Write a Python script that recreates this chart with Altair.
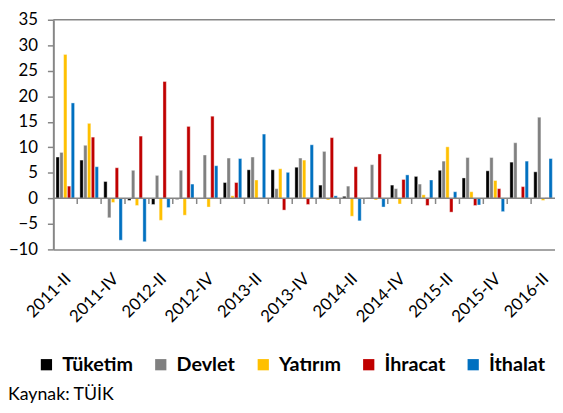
import altair as alt
import pandas as pd

quarters = ["2011-II", "2011-III", "2011-IV", "2012-I", "2012-II", "2012-III", "2012-IV",
            "2013-I", "2013-II", "2013-III", "2013-IV", "2014-I", "2014-II", "2014-III",
            "2014-IV", "2015-I", "2015-II", "2015-III", "2015-IV", "2016-I", "2016-II"]
labeled = quarters[::2]

series = ["Tüketim", "Devlet", "Yatırım", "İhracat", "İthalat"]
colors = ["#000000", "#808080", "#FFC000", "#C00000", "#0070C0"]

tuketim = [8.1, 7.5, 3.3, -0.4, -1.2, -0.2, -0.1, 3.1, 5.6, 5.6, 6.1, 2.6, 0.4, 0.1, 2.6, 4.3, 5.5, 4.0, 5.4, 7.1, 5.2]
devlet = [9.0, 10.4, -3.8, 5.5, 4.5, 5.5, 8.5, 7.9, 8.1, 1.9, 7.9, 9.2, 2.4, 6.6, 1.9, 2.8, 7.3, 8.0, 8.0, 10.9, 15.9]
yatirim = [28.2, 14.7, -0.8, -1.4, -4.3, -3.3, -1.7, 0.5, 3.6, 5.8, 7.5, -0.3, -3.5, -0.3, -1.1, 0.7, 10.1, 1.3, 3.5, 0.1, -0.4]
ihracat = [2.4, 12.0, 6.0, 12.2, 22.9, 14.1, 16.1, 3.1, 0.1, -2.3, -1.2, 11.9, 6.2, 8.7, 3.7, -1.4, -2.7, -1.4, 1.9, 2.3, 0.1]
ithalat = [18.7, 6.2, -8.2, -8.5, -1.8, 2.8, 6.4, 7.8, 12.6, 5.1, 10.5, 0.5, -4.4, -1.7, 4.6, 3.6, 1.3, -1.3, -2.6, 7.3, 7.8]

y_ticks = list(range(-10, 40, 5))
source_text = "Kaynak: TÜİK"

rows = []
for name, vals in zip(series, [tuketim, devlet, yatirim, ihracat, ithalat]):
    for q, v in zip(quarters, vals):
        rows.append({"q": q, "s": name, "v": v})
df = pd.DataFrame(rows)

FONT = "Lato"
GRAY = "#868686"

x_axis = alt.Axis(values=labeled, labelAngle=-45, labelAlign="right", labelBaseline="middle",
                  labelFontSize=17, labelFont=FONT, labelColor="#000000", labelPadding=27,
                  labelOffset=3, labelOverlap=False, ticks=False, domain=True, domainColor=GRAY,
                  domainWidth=1.5, title=None)
x_scale = alt.Scale(domain=quarters, paddingInner=0, paddingOuter=0)
y_scale = alt.Scale(domain=[-10, 35], nice=False, zero=False)
y_axis = alt.Axis(values=y_ticks, grid=False, tickSize=6, tickColor=GRAY, tickWidth=1.5,
                  domainColor=GRAY, domainWidth=2, labelFontSize=17, labelFont=FONT,
                  labelColor="#000000", labelPadding=10, labelOverlap=False, title=None)

bars = alt.Chart(df).mark_bar(stroke="white", strokeWidth=0.4).encode(
    x=alt.X("q:N", scale=x_scale, axis=x_axis, sort=quarters),
    xOffset=alt.XOffset("s:N", sort=series, scale=alt.Scale(domain=series, paddingInner=0.12, paddingOuter=0.7)),
    y=alt.Y("v:Q", scale=y_scale, axis=y_axis),
    color=alt.Color("s:N", scale=alt.Scale(domain=series, range=colors), sort=series,
                    legend=alt.Legend(orient="none", direction="horizontal", columns=5,
                                      legendX=-17, legendY=340, title=None,
                                      symbolType="square", symbolSize=130, symbolStrokeWidth=0,
                                      labelFontSize=20, labelFont=FONT, labelFontWeight="bold",
                                      labelColor="#000000", labelOffset=6, columnPadding=18,
                                      labelLimit=300)),
)

one = pd.DataFrame({"q": [quarters[0]]})
zero = alt.Chart(one).mark_rule(color=GRAY, strokeWidth=1.5).encode(
    y=alt.YDatum(0, scale=y_scale, axis=y_axis))
top = alt.Chart(one).mark_rule(color=GRAY, strokeWidth=1.5).encode(
    y=alt.YDatum(35, scale=y_scale, axis=y_axis))

ticks = alt.Chart(pd.DataFrame({"q": quarters[1:]})).mark_rule(color=GRAY, strokeWidth=1.5).encode(
    x=alt.X("q:N", scale=x_scale, axis=x_axis, sort=quarters, bandPosition=0),
    y=alt.YDatum(0, scale=y_scale, axis=y_axis),
    y2=alt.datum(-1.1),
)

src = alt.Chart(pd.DataFrame({"t": [source_text]})).mark_text(
    align="left", baseline="middle", fontSize=18, font=FONT, color="#000000"
).encode(text="t:N", x=alt.value(-46), y=alt.value(381))

chart = alt.layer(bars, zero, top, ticks, src).properties(
    width=509, height=233,
    autosize=alt.AutoSizeParams(type="none"),
    padding={"left": 46, "top": 9, "right": 0, "bottom": 158},
).configure_view(stroke=None)

chart.save("out.html", embed_options={"renderer": "svg", "actions": False})
